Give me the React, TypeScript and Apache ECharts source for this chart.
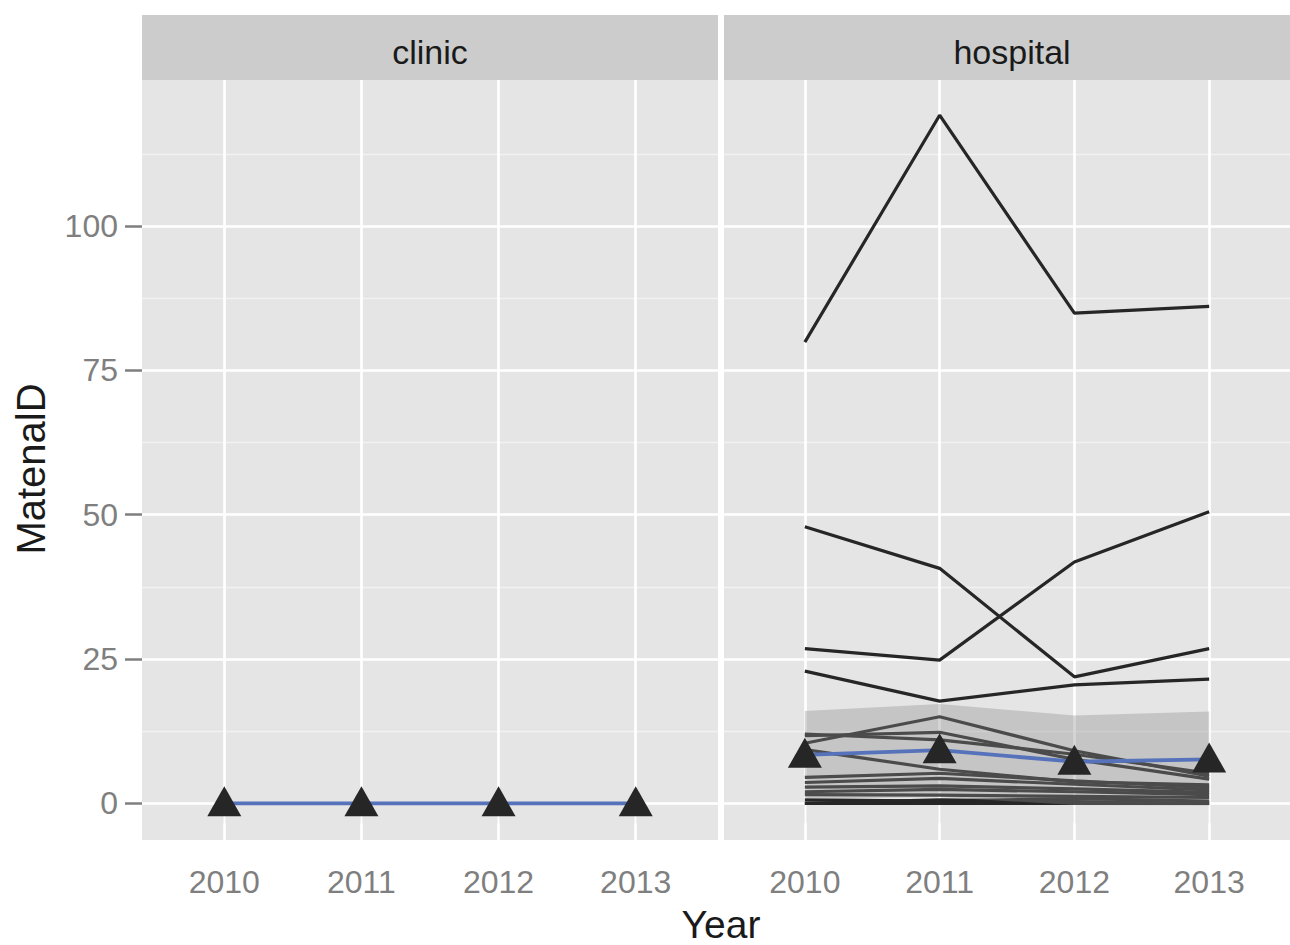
import React, { useEffect, useRef } from "react";
import * as echarts from "echarts";

// ---------- data ----------
const years = [2010, 2011, 2012, 2013];
const panels = ["clinic", "hospital"];
const yTicks = [0, 25, 50, 75, 100];
const yMinorTicks = [12.5, 37.5, 62.5, 87.5, 112.5];

const clinicMean = [0, 0, 0, 0];
const hospitalMean = [8.4, 9.2, 7.2, 7.6];
const hospitalLower = [0.8, 1.1, -0.3, -0.4];
const hospitalUpper = [16.0, 17.2, 15.2, 15.9];

const hospitalA = [79.9, 119.2, 84.9, 86.1];
const hospitalB = [47.9, 40.7, 21.9, 26.8];
const hospitalC = [26.8, 24.8, 41.8, 50.5];
const hospitalD = [22.9, 17.7, 20.5, 21.5];
const hospitalE = [10.4, 15.0, 9.1, 4.7];
const hospitalF = [11.7, 12.3, 7.6, 4.2];
const hospitalG = [12.0, 11.0, 8.5, 5.2];
const hospitalH = [9.3, 5.9, 3.7, 3.2];
const hospitalI = [4.5, 5.2, 3.9, 2.7];
const hospitalJ = [3.6, 4.3, 3.3, 2.3];
const hospitalK = [2.8, 3.0, 2.5, 1.9];
const hospitalL = [2.0, 2.4, 2.0, 1.5];
const hospitalM = [1.5, 1.4, 1.2, 1.0];
const hospitalN = [0.6, 0.4, 0.8, 0.4];
const hospitalO = [0, 0, 0, 0];
const hospitalP = [0, 0.6, 0.3, 0];

const hospitalLines = [
  hospitalA, hospitalB, hospitalC, hospitalD, hospitalE, hospitalF, hospitalG, hospitalH,
  hospitalI, hospitalJ, hospitalK, hospitalL, hospitalM, hospitalN, hospitalO, hospitalP,
];

const FONT = '"Liberation Sans", Arial, sans-serif';

export default function App() {
  const ref = useRef<HTMLDivElement>(null);

  useEffect(() => {
    if (!ref.current) return;
    const chart = echarts.init(ref.current, null, { renderer: "svg" });

    const gridLeft = [142, 724];
    const gridW = 576;
    const gridTop = 80;
    const gridH = 760;

    const xAxes = [0, 1].map((gi) => ({
      type: "value",
      gridIndex: gi,
      min: 2009.4,
      max: 2013.6,
      axisLine: { show: false },
      splitLine: { show: false },
      axisTick: {
        show: true,
        length: 20,
        customValues: years,
        lineStyle: { color: "#7F7F7F", width: 2.5 },
      },
      axisLabel: {
        customValues: years,
        margin: 26,
        color: "#7F7F7F",
        fontSize: 32,
        fontFamily: FONT,
        formatter: (v: number) => String(v),
      },
    }));

    const yAxes = [0, 1].map((gi) => ({
      type: "value",
      gridIndex: gi,
      min: -6.36,
      max: 125.3,
      axisLine: { show: false },
      splitLine: { show: false },
      axisTick: {
        show: gi === 0,
        length: 17,
        customValues: yTicks,
        lineStyle: { color: "#7F7F7F", width: 2.5 },
      },
      axisLabel: {
        show: gi === 0,
        customValues: yTicks,
        margin: 24,
        color: "#7F7F7F",
        fontSize: 32,
        fontFamily: FONT,
        formatter: (v: number) => String(v),
      },
    }));

    const gridSeries = [0, 1].map((gi) => ({
      type: "line",
      xAxisIndex: gi,
      yAxisIndex: gi,
      data: [],
      z: 1,
      silent: true,
      markLine: {
        silent: true,
        symbol: ["none", "none"],
        label: { show: false },
        animation: false,
        z: 1,
        data: [
          ...yMinorTicks.map((v) => ({ yAxis: v, lineStyle: { color: "#F2F2F2", width: 1.4, type: "solid" } })),
          ...yTicks.map((v) => ({ yAxis: v, lineStyle: { color: "#FFFFFF", width: 2.7, type: "solid" } })),
          ...years.map((v) => ({ xAxis: v, lineStyle: { color: "#FFFFFF", width: 2.7, type: "solid" } })),
        ],
      },
    }));

    const lineSeries = hospitalLines.map((arr) => ({
      type: "line",
      xAxisIndex: 1,
      yAxisIndex: 1,
      data: years.map((y, i) => [y, arr[i]]),
      symbol: "none",
      silent: true,
      lineStyle: { color: "#262626", width: 3.2 },
      z: 2,
    }));

    const ribbon = {
      type: "custom",
      xAxisIndex: 1,
      yAxisIndex: 1,
      silent: true,
      z: 3,
      data: years.map((y, i) => [y, hospitalLower[i], hospitalUpper[i]]),
      encode: { x: 0, y: [1, 2] },
      renderItem: (params: any, api: any) => {
        if (params.dataIndex !== 0) return null;
        const top = years.map((y, i) => api.coord([y, hospitalUpper[i]]));
        const bot = years.map((y, i) => api.coord([y, hospitalLower[i]])).reverse();
        return {
          type: "polygon",
          shape: { points: top.concat(bot) },
          style: { fill: "rgba(142,142,142,0.36)" },
        };
      },
    };

    const meanLines = [clinicMean, hospitalMean].map((arr, gi) => ({
      type: "line",
      xAxisIndex: gi,
      yAxisIndex: gi,
      data: years.map((y, i) => [y, arr[i]]),
      symbol: "none",
      silent: true,
      lineStyle: { color: "#5572BA", width: 3.8 },
      z: 4,
    }));

    const meanPoints = [clinicMean, hospitalMean].map((arr, gi) => ({
      type: "scatter",
      xAxisIndex: gi,
      yAxisIndex: gi,
      data: years.map((y, i) => [y, arr[i]]),
      symbol: "triangle",
      symbolSize: [34, 30],
      symbolOffset: [0, -2],
      silent: true,
      itemStyle: { color: "#262626", opacity: 1 },
      z: 5,
    }));

    const graphics: any[] = [];
    panels.forEach((p, gi) => {
      graphics.push({
        type: "rect",
        shape: { x: gridLeft[gi], y: 15, width: gridW, height: 65 },
        style: { fill: "#CCCCCC" },
        silent: true,
      });
      graphics.push({
        type: "text",
        x: gridLeft[gi] + gridW / 2,
        y: 52,
        style: {
          text: p,
          fill: "#1A1A1A",
          fontSize: 34,
          fontFamily: FONT,
          align: "center",
          verticalAlign: "middle",
        },
        silent: true,
      });
    });
    graphics.push({
      type: "text",
      x: 721,
      y: 944,
      style: {
        text: "Year",
        fill: "#1A1A1A",
        fontSize: 39,
        fontFamily: FONT,
        align: "center",
        verticalAlign: "bottom",
      },
      silent: true,
    });
    graphics.push({
      type: "text",
      x: 31,
      y: 469,
      rotation: Math.PI / 2,
      style: {
        text: "MatenalD",
        fill: "#1A1A1A",
        fontSize: 40,
        fontFamily: FONT,
        align: "center",
        verticalAlign: "middle",
      },
      silent: true,
    });

    chart.setOption({
      animation: false,
      backgroundColor: "#FFFFFF",
      grid: [0, 1].map((gi) => ({
        left: gridLeft[gi],
        top: gridTop,
        width: gridW,
        height: gridH,
        show: true,
        backgroundColor: "#E5E5E5",
        borderWidth: 0,
        containLabel: false,
      })),
      xAxis: xAxes,
      yAxis: yAxes,
      graphic: graphics,
      series: [...gridSeries, ...lineSeries, ribbon, ...meanLines, ...meanPoints],
    } as any);

    return () => chart.dispose();
  }, []);

  return (
    <div
      ref={ref}
      style={{ position: "fixed", left: 0, top: 0, width: 1290, height: 945, background: "#fff" }}
    />
  );
}
